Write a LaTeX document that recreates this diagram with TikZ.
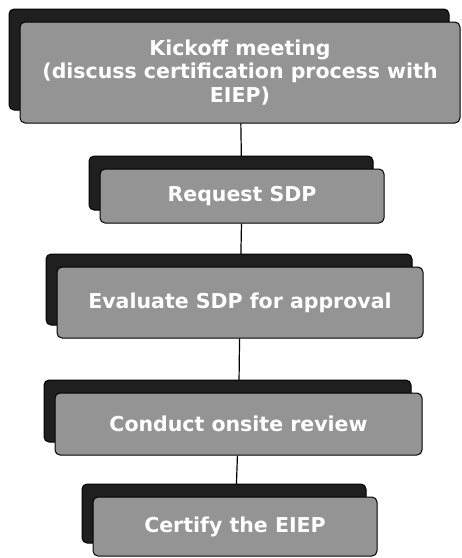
\documentclass[tikz,border=0pt]{standalone}
\usepackage{fontspec}
\setmainfont{DejaVu Sans}
\usetikzlibrary{shadows,backgrounds}

\begin{document}
\begin{tikzpicture}[x=1pt,y=-1pt,
    stepbox/.style={draw=black,line width=1pt,fill=black!42,rounded corners=5pt,
      text=white,font=\bfseries\fontsize{20.5}{23.5}\selectfont,align=center,inner sep=2pt,
      copy shadow={shadow xshift=-11pt,shadow yshift=13pt,fill=black!88,draw=black}},
    link/.style={line width=1.2pt,black}]
        \useasboundingbox (0,0) rectangle (462,558);
        \node[stepbox,minimum width=440pt,minimum height=101pt] (kickoff) at (240,72.5) {Kickoff meeting\\(discuss certification process with\\EIEP)};
        \node[stepbox,minimum width=284pt,minimum height=54pt] (request) at (242,196) {Request SDP};
        \node[stepbox,minimum width=366pt,minimum height=71pt] (evaluate) at (240,302.5) {Evaluate SDP for approval};
        \node[stepbox,minimum width=367pt,minimum height=62pt] (review) at (238.5,424) {Conduct onsite review};
        \node[stepbox,minimum width=284pt,minimum height=59pt] (certify) at (235,526.5) {Certify the EIEP};
        \begin{scope}[on background layer]
        \draw[link] (kickoff) -- (request);
        \draw[link] (request) -- (evaluate);
        \draw[link] (evaluate) -- (review);
        \draw[link] (review) -- (certify);
        \end{scope}
      \end{tikzpicture}
\end{document}
